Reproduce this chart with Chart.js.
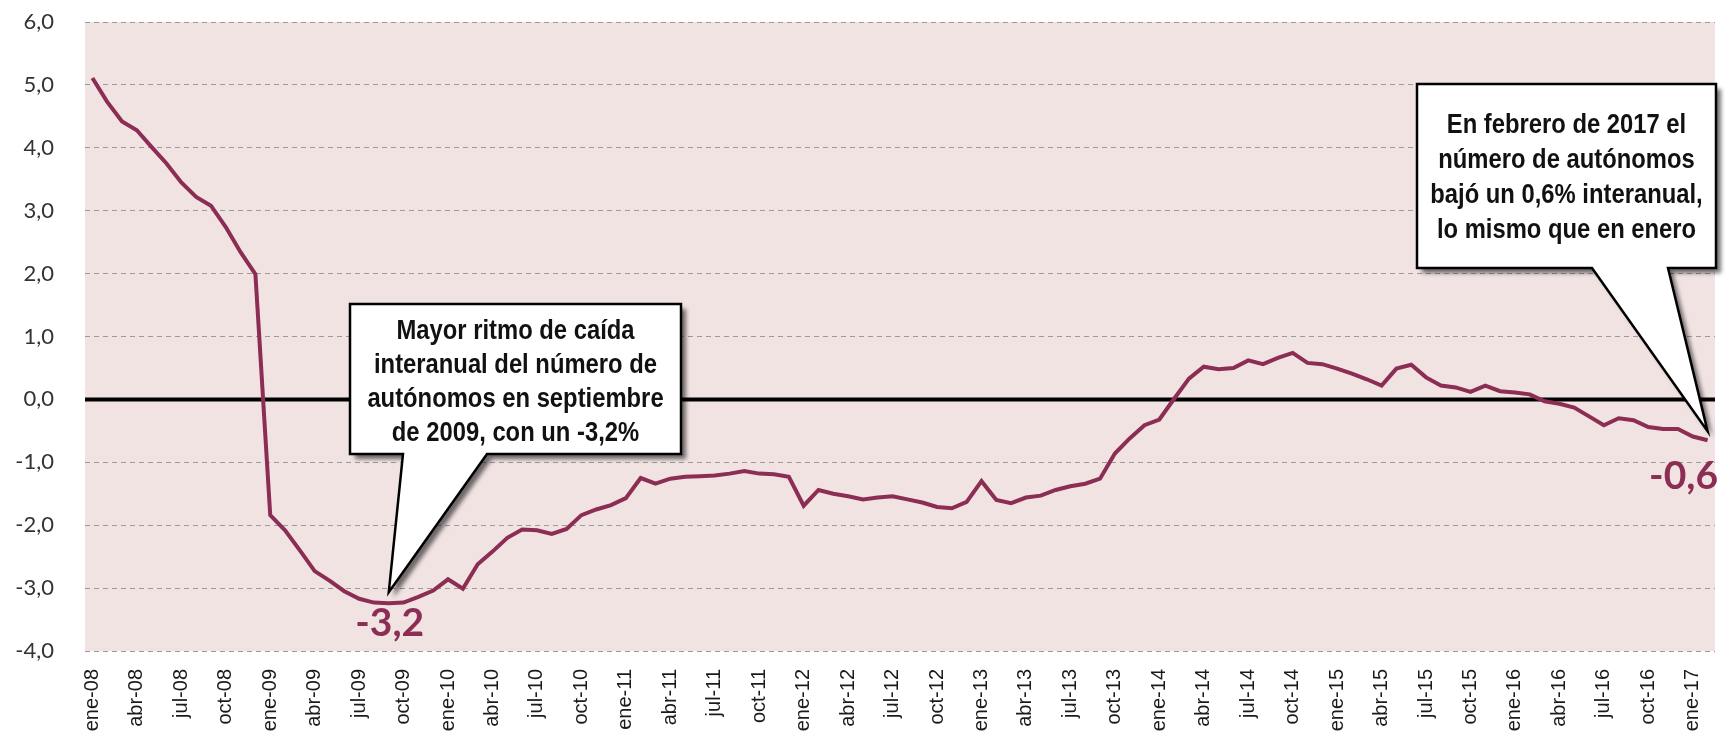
<!DOCTYPE html>
<html lang="es">
<head>
<meta charset="utf-8">
<title>Autónomos, variación interanual</title>
<script src="https://cdn.jsdelivr.net/npm/chart.js@4.4.1/dist/chart.umd.min.js"></script>
<style>
    html, body { margin: 0; padding: 0; background: #fff; }
    #wrap { width: 1727px; height: 737px; position: relative; }
</style>
</head>
<body>
<div id="wrap"><canvas id="chart"></canvas></div>
<script>
const monthNames = ['ene', 'feb', 'mar', 'abr', 'may', 'jun', 'jul', 'ago', 'sep', 'oct', 'nov', 'dic'];
const years = ['08', '09', '10', '11', '12', '13', '14', '15', '16', '17'];

const values2008 = [5.11, 4.73, 4.42, 4.28, 4.01, 3.75, 3.45, 3.22, 3.08, 2.74, 2.34, 1.99];
const values2009 = [-1.84, -2.08, -2.40, -2.73, -2.88, -3.05, -3.17, -3.23, -3.24, -3.23, -3.14, -3.04];
const values2010 = [-2.86, -3.01, -2.62, -2.42, -2.20, -2.07, -2.08, -2.14, -2.06, -1.84, -1.75, -1.68];
const values2011 = [-1.57, -1.25, -1.34, -1.26, -1.23, -1.22, -1.21, -1.18, -1.14, -1.18, -1.19, -1.23];
const values2012 = [-1.69, -1.44, -1.50, -1.54, -1.59, -1.56, -1.54, -1.59, -1.64, -1.71, -1.73, -1.63];
const values2013 = [-1.30, -1.60, -1.65, -1.56, -1.53, -1.44, -1.38, -1.34, -1.26, -0.86, -0.62, -0.41];
const values2014 = [-0.32, 0.01, 0.33, 0.52, 0.48, 0.50, 0.62, 0.56, 0.66, 0.74, 0.58, 0.56];
const values2015 = [0.49, 0.41, 0.32, 0.22, 0.49, 0.55, 0.35, 0.22, 0.19, 0.12, 0.22, 0.13];
const values2016 = [0.11, 0.08, -0.03, -0.07, -0.13, -0.27, -0.41, -0.30, -0.33, -0.44, -0.47, -0.47];
const values2017 = [-0.59, -0.65];

const yTicks = [-4, -3, -2, -1, 0, 1, 2, 3, 4, 5, 6];

const noteMin = ['Mayor ritmo de caída', 'interanual del número de', 'autónomos en septiembre', 'de 2009, con un -3,2%'];
const noteLast = ['En febrero de 2017 el', 'número de autónomos', 'bajó un 0,6% interanual,', 'lo mismo que en enero'];
const labelMin = '-3,2';
const labelLast = '-0,6';

const values = [].concat(values2008, values2009, values2010, values2011, values2012,
    values2013, values2014, values2015, values2016, values2017);
const categories = values.map((v, i) => `${monthNames[i % 12]}-${years[Math.floor(i / 12)]}`);
const minIndex = 20;
const lastIndex = values.length - 1;

const LINE = '#8c2d53';
const BG = '#f2e3e3';
// Arial Narrow is not installed: squeeze Liberation Sans Bold the same way
const NOTE_FONT = 'bold 28px "Liberation Sans", Arial, sans-serif';
const NARROW = 0.85;

const plotBackground = {
    id: 'plotBackground',
    beforeDraw(chart) {
        const { ctx, chartArea: a } = chart;
        ctx.save();
        ctx.fillStyle = BG;
        ctx.fillRect(a.left, a.top, a.right - a.left, a.bottom - a.top);
        ctx.restore();
    },
    beforeDatasetsDraw(chart) {
        const { ctx, chartArea: a } = chart;
        const y0 = chart.scales.y.getPixelForValue(0);
        ctx.save();
        ctx.strokeStyle = '#000';
        ctx.lineWidth = 4;
        ctx.beginPath();
        ctx.moveTo(a.left, y0);
        ctx.lineTo(a.right, y0);
        ctx.stroke();
        ctx.restore();
    }
};

function callout(ctx, box, base, tip, lines, lineGap) {
    ctx.save();
    ctx.beginPath();
    ctx.moveTo(box.x, box.y);
    ctx.lineTo(box.x + box.w, box.y);
    ctx.lineTo(box.x + box.w, box.y + box.h);
    ctx.lineTo(base[1], box.y + box.h);
    ctx.lineTo(tip.x, tip.y);
    ctx.lineTo(base[0], box.y + box.h);
    ctx.lineTo(box.x, box.y + box.h);
    ctx.closePath();
    ctx.shadowColor = 'rgba(0,0,0,0.55)';
    ctx.shadowBlur = 4;
    ctx.shadowOffsetX = 5;
    ctx.shadowOffsetY = 5;
    ctx.fillStyle = '#fff';
    ctx.fill();
    ctx.shadowColor = 'transparent';
    ctx.lineWidth = 2.5;
    ctx.strokeStyle = '#000';
    ctx.stroke();

    ctx.fillStyle = '#111';
    ctx.font = NOTE_FONT;
    ctx.textAlign = 'center';
    ctx.textBaseline = 'middle';
    const cx = box.x + box.w / 2;
    const first = box.y + box.textTop;
    ctx.translate(cx, 0);
    ctx.scale(NARROW, 1);
    lines.forEach((t, i) => ctx.fillText(t, 0, first + i * lineGap));
    ctx.restore();
}

const annotations = {
    id: 'annotations',
    afterDraw(chart) {
        const { ctx } = chart;
        const meta = chart.getDatasetMeta(0).data;
        const pMin = meta[minIndex];
        const pLast = meta[lastIndex];

        callout(ctx, { x: 350, y: 304, w: 331, h: 150, textTop: 27 }, [403, 487],
            { x: pMin.x, y: pMin.y - 11 }, noteMin, 34);
        callout(ctx, { x: 1417, y: 84, w: 299, h: 184, textTop: 41 }, [1592, 1668],
            { x: pLast.x, y: pLast.y - 9 }, noteLast, 35);

        ctx.save();
        ctx.fillStyle = LINE;
        ctx.font = 'bold 39px Lato, "Open Sans", sans-serif';
        ctx.textBaseline = 'middle';
        ctx.textAlign = 'center';
        ctx.fillText(labelMin, pMin.x + 1, pMin.y + 20);
        ctx.textAlign = 'right';
        ctx.fillText(labelLast, chart.chartArea.right + 3, pLast.y + 36);
        ctx.restore();
    }
};

new Chart(document.getElementById('chart'), {
    type: 'line',
    data: {
        labels: categories,
        datasets: [{
            data: values,
            borderColor: LINE,
            borderWidth: 4,
            pointRadius: 0,
            tension: 0,
            fill: false,
        }],
    },
    options: {
        responsive: true,
        maintainAspectRatio: false,
        animation: false,
        layout: { padding: { top: 0, right: 12, left: 0, bottom: 0 } },
        plugins: { legend: { display: false }, tooltip: { enabled: false } },
        scales: {
            x: {
                offset: true,
                grid: { display: false, drawTicks: false },
                border: { display: false },
                afterFit: (s) => { s.height = 86; s.paddingLeft = 0; s.paddingRight = 0; },
                ticks: {
                    autoSkip: false,
                    maxRotation: 90,
                    minRotation: 90,
                    padding: 18,
                    color: '#1a1a1a',
                    font: { family: '"Liberation Sans", Arial, sans-serif', size: 20 },
                    callback: (v, i) => (i % 3 === 0 ? categories[i] : ''),
                },
            },
            y: {
                min: yTicks[0],
                max: yTicks[yTicks.length - 1],
                afterBuildTicks: (s) => { s.ticks = yTicks.map((v) => ({ value: v })); },
                afterFit: (s) => { s.width = 85; s.paddingTop = 22; s.paddingBottom = 0; },
                border: { display: false, dash: [5, 4] },
                grid: {
                    drawTicks: false,
                    lineWidth: 1,
                    color: (c) => (c.tick && c.tick.value === 0 ? 'rgba(0,0,0,0)' : '#9b9b9b'),
                },
                ticks: {
                    padding: 31,
                    color: '#333333',
                    font: { family: 'Lato, "Open Sans", sans-serif', size: 22 },
                    callback: (v) => v.toFixed(1).replace('.', ','),
                },
            },
        },
    },
    plugins: [plotBackground, annotations],
});
</script>
</body>
</html>
